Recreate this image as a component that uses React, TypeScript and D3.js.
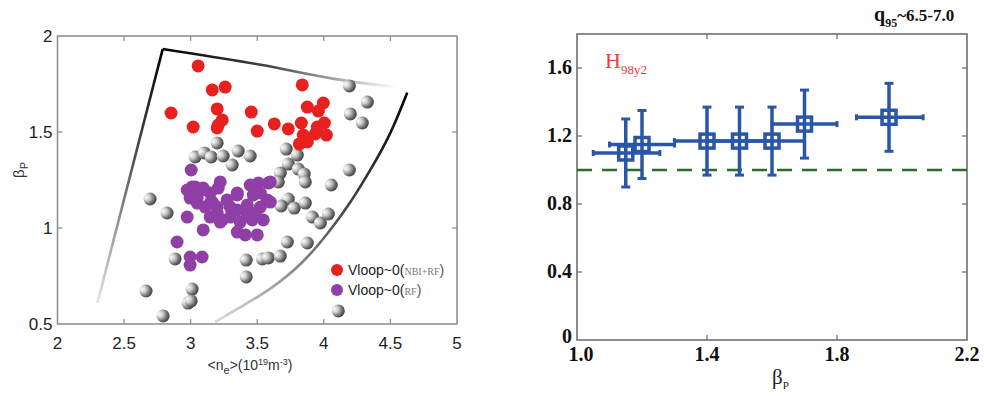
import React, { useRef, useEffect } from "react";
import * as d3 from "d3";

// ---- left panel: <ne> vs beta_p scatter ----
const redPts: [number, number][] = [
  [3.056, 1.844], [3.162, 1.719], [3.259, 1.734], [2.853, 1.599], [3.199, 1.62],
  [3.455, 1.604], [3.019, 1.526], [3.207, 1.536], [3.237, 1.563], [3.199, 1.521],
  [3.5, 1.505], [3.628, 1.542], [3.733, 1.516], [3.838, 1.745], [3.876, 1.63],
  [3.996, 1.651], [3.959, 1.609], [3.831, 1.547], [3.951, 1.526], [4.004, 1.547],
  [4.019, 1.484], [3.936, 1.49], [3.846, 1.484], [3.816, 1.438], [3.876, 1.448],
];

const purplePts: [number, number][] = [
  [3.004, 1.302], [3.011, 1.214], [2.974, 1.198], [3.034, 1.214], [3.086, 1.198],
  [2.996, 1.156], [3.049, 1.13], [3.147, 1.182], [3.222, 1.24], [3.207, 1.208],
  [3.162, 1.135], [3.109, 1.109], [3.199, 1.109], [3.274, 1.146], [3.35, 1.182],
  [3.447, 1.224], [3.508, 1.234], [3.583, 1.234], [3.47, 1.172], [3.575, 1.146],
  [3.523, 1.109], [3.425, 1.12], [3.35, 1.094], [3.297, 1.057], [3.222, 1.031],
  [3.147, 1.057], [2.974, 1.057], [3.094, 0.99], [3.372, 1.031], [3.462, 1.042],
  [3.545, 1.042], [3.35, 0.979], [3.41, 0.964], [3.5, 0.964], [2.898, 0.927],
  [2.996, 0.849], [3.086, 0.849], [2.996, 0.807], [3.485, 1.078], [3.425, 1.068],
  [3.094, 1.208], [3.147, 1.13], [3.35, 1.172], [3.523, 1.182], [3.297, 1.109],
  [3.199, 1.078], [3.598, 1.24], [3.598, 1.135], [3.237, 1.042], [3.049, 1.156],
];

const grayPts: [number, number][] = [
  [3.199, 1.443], [3.034, 1.37], [3.102, 1.391], [3.154, 1.37], [3.244, 1.375],
  [3.357, 1.401], [3.447, 1.375], [3.312, 1.328], [3.718, 1.411], [3.801, 1.38],
  [3.733, 1.333], [3.808, 1.307], [3.673, 1.286], [3.853, 1.281], [3.658, 1.24],
  [3.861, 1.24], [4.056, 1.224], [4.192, 1.302], [4.192, 1.74], [4.327, 1.656],
  [4.199, 1.594], [4.289, 1.547], [3.733, 1.151], [3.68, 1.115], [3.778, 1.104],
  [3.861, 1.13], [3.914, 1.057], [3.974, 1.026], [4.034, 1.073], [3.726, 0.927],
  [3.876, 0.922], [3.417, 0.833], [3.538, 0.839], [3.583, 0.844], [3.673, 0.854],
  [3.417, 0.745], [4.109, 0.568], [2.695, 1.151], [2.823, 1.078], [2.883, 0.839],
  [2.665, 0.672], [3.011, 0.682], [2.981, 0.609], [3.004, 0.62], [2.793, 0.542],
];

// operating boundary
const leftEdge: [number, number][] = [[2.79, 1.932], [2.3, 0.61]];
const topEdge: [number, number][] = [[2.79, 1.932], [3.575, 1.849], [4.071, 1.771], [4.552, 1.734]];
const rightEdge: [number, number][] = [
  [4.626, 1.705], [4.5, 1.484], [4.35, 1.302], [4.2, 1.13], [4.034, 0.974],
  [3.846, 0.818], [3.598, 0.677], [3.335, 0.573], [3.184, 0.51],
];

const leftXTicks = [2, 2.5, 3, 3.5, 4, 4.5, 5];
const leftYTicks = [0.5, 1, 1.5, 2];

// ---- right panel: H98y2 vs beta_p ----
const betaP = [1.15, 1.2, 1.4, 1.5, 1.6, 1.7, 1.96];
const h98 = [1.1, 1.15, 1.17, 1.17, 1.17, 1.27, 1.31];
const betaLo = [1.05, 1.1, 1.3, 1.4, 1.5, 1.6, 1.86];
const betaHi = [1.255, 1.3, 1.5, 1.6, 1.7, 1.8, 2.065];
const h98Err = [0.2, 0.2, 0.2, 0.2, 0.2, 0.2, 0.2];
const rightXTicks = [1.0, 1.4, 1.8, 2.2];
const rightYTicks = [0, 0.4, 0.8, 1.2, 1.6];

const SANS = "'Liberation Sans', Arial, sans-serif";
const SERIF = "'Liberation Serif', 'Times New Roman', serif";
const BLUE = "#2a56a9";

const App = () => {
  const ref = useRef<SVGSVGElement>(null);

  useEffect(() => {
    const svg = d3.select(ref.current);
    svg.selectAll("*").remove();
    const defs = svg.append("defs");

    // shaded sphere for the gray points
    const sph = defs
      .append("radialGradient")
      .attr("id", "sphere")
      .attr("cx", "35%")
      .attr("cy", "40%")
      .attr("r", "70%")
      .attr("fx", "18%")
      .attr("fy", "35%");
    sph.append("stop").attr("offset", "0%").attr("stop-color", "#ffffff");
    sph.append("stop").attr("offset", "35%").attr("stop-color", "#cfcfcf");
    sph.append("stop").attr("offset", "75%").attr("stop-color", "#666");
    sph.append("stop").attr("offset", "100%").attr("stop-color", "#3a3a3a");

    // ---------------- left panel ----------------
    const xL = d3.scaleLinear().domain([2, 5]).range([57.5, 457]);
    const yL = d3.scaleLinear().domain([0.5, 2]).range([324, 36]);
    const gL = svg.append("g").style("font-family", SANS);

    gL.append("rect")
      .attr("x", xL(2)).attr("y", yL(2))
      .attr("width", xL(5) - xL(2)).attr("height", yL(0.5) - yL(2))
      .attr("fill", "white").attr("stroke", "#8a8a8a").attr("stroke-width", 1.5);

    const tickCol = "#8a8a8a";
    gL.selectAll("line.xt")
      .data(leftXTicks.slice(1, -1))
      .enter()
      .append("line")
      .attr("x1", (d) => xL(d)).attr("x2", (d) => xL(d))
      .attr("y1", yL(0.5)).attr("y2", yL(0.5) - 5)
      .attr("stroke", tickCol).attr("stroke-width", 1.2);
    gL.selectAll("line.xt2")
      .data(leftXTicks.slice(1, -1))
      .enter()
      .append("line")
      .attr("x1", (d) => xL(d)).attr("x2", (d) => xL(d))
      .attr("y1", yL(2)).attr("y2", yL(2) + 5)
      .attr("stroke", tickCol).attr("stroke-width", 1.2);
    gL.selectAll("line.yt")
      .data(leftYTicks.slice(1, -1))
      .enter()
      .append("line")
      .attr("x1", xL(2)).attr("x2", xL(2) + 5)
      .attr("y1", (d) => yL(d)).attr("y2", (d) => yL(d))
      .attr("stroke", tickCol).attr("stroke-width", 1.2);
    gL.selectAll("line.yt2")
      .data(leftYTicks.slice(1, -1))
      .enter()
      .append("line")
      .attr("x1", xL(5)).attr("x2", xL(5) - 5)
      .attr("y1", (d) => yL(d)).attr("y2", (d) => yL(d))
      .attr("stroke", tickCol).attr("stroke-width", 1.2);

    gL.selectAll("text.xl")
      .data(leftXTicks)
      .enter()
      .append("text")
      .attr("x", (d) => xL(d))
      .attr("y", yL(0.5) + 25)
      .attr("text-anchor", "middle")
      .style("font-size", "17px")
      .attr("fill", "#222")
      .text((d) => d3.format("")(d));
    gL.selectAll("text.yl")
      .data(leftYTicks)
      .enter()
      .append("text")
      .attr("x", xL(2) - 5)
      .attr("y", (d) => yL(d) + 6)
      .attr("text-anchor", "end")
      .style("font-size", "17px")
      .attr("fill", "#222")
      .text((d) => d3.format("")(d));

    // axis labels
    const xlab = gL.append("text")
      .attr("x", 250).attr("y", 370)
      .attr("text-anchor", "middle")
      .style("font-size", "14px")
      .attr("fill", "#333");
    xlab.append("tspan").text("<n");
    xlab.append("tspan").attr("dy", 4).style("font-size", "11px").text("e");
    xlab.append("tspan").attr("dy", -4).text(">(10");
    xlab.append("tspan").attr("dy", -5).style("font-size", "9px").text("19");
    xlab.append("tspan").attr("dy", 5).text("m");
    xlab.append("tspan").attr("dy", -5).style("font-size", "9px").text("-3");
    xlab.append("tspan").attr("dy", 5).text(")");

    const ylab = gL.append("text")
      .attr("transform", "translate(24,178) rotate(-90)")
      .style("font-size", "15px")
      .attr("fill", "#333");
    ylab.append("tspan").text("β");
    ylab.append("tspan").attr("dy", 4).style("font-size", "11px").text("P");

    // boundary with fading strokes
    const edgeLine = d3
      .line<[number, number]>()
      .x((d) => xL(d[0]))
      .y((d) => yL(d[1]))
      .curve(d3.curveBasis);

    const edges: [string, [number, number][], string, string, string][] = [
      ["gLeft", leftEdge, "#000", "#555", "#e4e4e4"],
      ["gTop", topEdge, "#000", "#444", "#ffffff"],
      ["gRight", rightEdge, "#000", "#4a4a4a", "#dcdcdc"],
    ];
    edges.forEach(([id, pts, c0, cm, c1]) => {
      const a = pts[0];
      const b = pts[pts.length - 1];
      const lg = defs
        .append("linearGradient")
        .attr("id", id)
        .attr("gradientUnits", "userSpaceOnUse")
        .attr("x1", xL(a[0])).attr("y1", yL(a[1]))
        .attr("x2", xL(b[0])).attr("y2", yL(b[1]));
      lg.append("stop").attr("offset", "0%").attr("stop-color", c0);
      lg.append("stop").attr("offset", "45%").attr("stop-color", cm);
      lg.append("stop").attr("offset", "100%").attr("stop-color", c1);
      gL.append("path")
        .attr("d", edgeLine(pts))
        .attr("fill", "none")
        .attr("stroke", `url(#${id})`)
        .attr("stroke-width", 2.6);
    });

    const r = 6.5;
    gL.selectAll("circle.g")
      .data(grayPts)
      .enter()
      .append("circle")
      .attr("cx", (d) => xL(d[0]))
      .attr("cy", (d) => yL(d[1]))
      .attr("r", r)
      .attr("fill", "url(#sphere)");
    gL.selectAll("circle.p")
      .data(purplePts)
      .enter()
      .append("circle")
      .attr("cx", (d) => xL(d[0]))
      .attr("cy", (d) => yL(d[1]))
      .attr("r", r)
      .attr("fill", "#8f3fa6");
    gL.selectAll("circle.r")
      .data(redPts)
      .enter()
      .append("circle")
      .attr("cx", (d) => xL(d[0]))
      .attr("cy", (d) => yL(d[1]))
      .attr("r", r)
      .attr("fill", "#e8201e");

    // legend
    const legend = [
      { color: "#e8201e", tag: "NBI+RF", y: 270 },
      { color: "#8f3fa6", tag: "RF", y: 290 },
    ];
    legend.forEach((l) => {
      gL.append("circle").attr("cx", 337).attr("cy", l.y).attr("r", 6).attr("fill", l.color);
      const t = gL.append("text")
        .attr("x", 348).attr("y", l.y + 5)
        .style("font-size", "14px")
        .attr("fill", "#222");
      t.append("tspan").text("Vloop~0(");
      t.append("tspan").style("font-family", SERIF).style("font-size", "10px").attr("fill", "#777").text(l.tag);
      t.append("tspan").attr("fill", "#555").text(")");
    });

    // ---------------- right panel ----------------
    const xR = d3.scaleLinear().domain([1, 2.2]).range([577, 967]);
    const yR = d3.scaleLinear().domain([0, 1.8]).range([340, 34]);
    const gR = svg.append("g").style("font-family", SERIF);

    gR.append("rect")
      .attr("x", xR(1)).attr("y", yR(1.8))
      .attr("width", xR(2.2) - xR(1)).attr("height", yR(0) - yR(1.8))
      .attr("fill", "white").attr("stroke", "#666").attr("stroke-width", 1.5);

    const inner = rightXTicks.slice(1, -1);
    inner.forEach((t) => {
      gR.append("line").attr("x1", xR(t)).attr("x2", xR(t)).attr("y1", yR(0)).attr("y2", yR(0) - 5).attr("stroke", "#666").attr("stroke-width", 1.2);
      gR.append("line").attr("x1", xR(t)).attr("x2", xR(t)).attr("y1", yR(1.8)).attr("y2", yR(1.8) + 5).attr("stroke", "#666").attr("stroke-width", 1.2);
    });
    rightYTicks.slice(1).forEach((t) => {
      gR.append("line").attr("x1", xR(1)).attr("x2", xR(1) + 5).attr("y1", yR(t)).attr("y2", yR(t)).attr("stroke", "#666").attr("stroke-width", 1.2);
      gR.append("line").attr("x1", xR(2.2)).attr("x2", xR(2.2) - 5).attr("y1", yR(t)).attr("y2", yR(t)).attr("stroke", "#666").attr("stroke-width", 1.2);
    });

    gR.selectAll("text.xl")
      .data(rightXTicks)
      .enter()
      .append("text")
      .attr("x", (d) => xR(d) + (d === 1 ? 4 : 0))
      .attr("y", yR(0) + 21)
      .attr("text-anchor", "middle")
      .style("font-size", "20px")
      .style("font-weight", "bold")
      .attr("fill", "#111")
      .text((d) => d3.format(".1f")(d));
    gR.selectAll("text.yl")
      .data(rightYTicks)
      .enter()
      .append("text")
      .attr("x", xR(1) - 5)
      .attr("y", (d) => yR(d) + 6 - (d === 0 ? 3 : 0))
      .attr("text-anchor", "end")
      .style("font-size", "20px")
      .style("font-weight", "bold")
      .attr("fill", "#111")
      .text((d) => (d === 0 ? "0" : d3.format(".1f")(d)));

    const bx = gR.append("text").attr("x", 772).attr("y", 384).style("font-size", "21px").attr("fill", "#222");
    bx.append("tspan").text("β");
    bx.append("tspan").attr("dy", 5).style("font-size", "11px").text("P");

    const hl = gR.append("text").attr("x", 605).attr("y", 68).attr("fill", "#ee3a3a").style("font-size", "22px");
    hl.append("tspan").text("H");
    hl.append("tspan").attr("dy", 6).style("font-size", "13px").text("98y2");

    const q = gR.append("text").attr("x", 874).attr("y", 21).attr("fill", "#111").style("font-weight", "bold").style("font-size", "20px");
    q.append("tspan").text("q");
    q.append("tspan").attr("dy", 6).style("font-size", "12px").text("95");
    q.append("tspan").attr("dy", -6).style("font-size", "17px").text("~6.5-7.0");

    // reference line H98y2 = 1
    gR.append("line")
      .attr("x1", xR(1)).attr("x2", xR(2.2))
      .attr("y1", yR(1)).attr("y2", yR(1))
      .attr("stroke", "#2c6b2e").attr("stroke-width", 2.5)
      .attr("stroke-dasharray", "15,10");

    const pts = betaP.map((b, i) => ({ b, h: h98[i], lo: betaLo[i], hi: betaHi[i], e: h98Err[i] }));
    const mk = gR.selectAll("g.pt").data(pts).enter().append("g").attr("stroke", BLUE).attr("fill", "none");
    mk.append("line")
      .attr("x1", (d) => xR(d.lo)).attr("x2", (d) => xR(d.hi))
      .attr("y1", (d) => yR(d.h)).attr("y2", (d) => yR(d.h))
      .attr("stroke-width", 3.5);
    mk.append("line")
      .attr("x1", (d) => xR(d.b)).attr("x2", (d) => xR(d.b))
      .attr("y1", (d) => yR(d.h - d.e)).attr("y2", (d) => yR(d.h + d.e))
      .attr("stroke-width", 3.5);
    [(d: any) => d.h - d.e, (d: any) => d.h + d.e].forEach((f) => {
      mk.append("line")
        .attr("x1", (d) => xR(d.b) - 4.5).attr("x2", (d) => xR(d.b) + 4.5)
        .attr("y1", (d) => yR(f(d))).attr("y2", (d) => yR(f(d)))
        .attr("stroke-width", 3);
    });
    [(d: any) => d.lo, (d: any) => d.hi].forEach((f) => {
      mk.append("line")
        .attr("x1", (d) => xR(f(d))).attr("x2", (d) => xR(f(d)))
        .attr("y1", (d) => yR(d.h) - 3).attr("y2", (d) => yR(d.h) + 3)
        .attr("stroke-width", 3);
    });
    mk.append("rect")
      .attr("x", (d) => xR(d.b) - 7).attr("y", (d) => yR(d.h) - 7)
      .attr("width", 14).attr("height", 14)
      .attr("stroke-width", 3.5);
  }, []);

  return (
    <svg
      ref={ref}
      width={984}
      height={396}
      style={{ position: "absolute", left: 0, top: 0, background: "white" }}
    />
  );
};

export default App;
